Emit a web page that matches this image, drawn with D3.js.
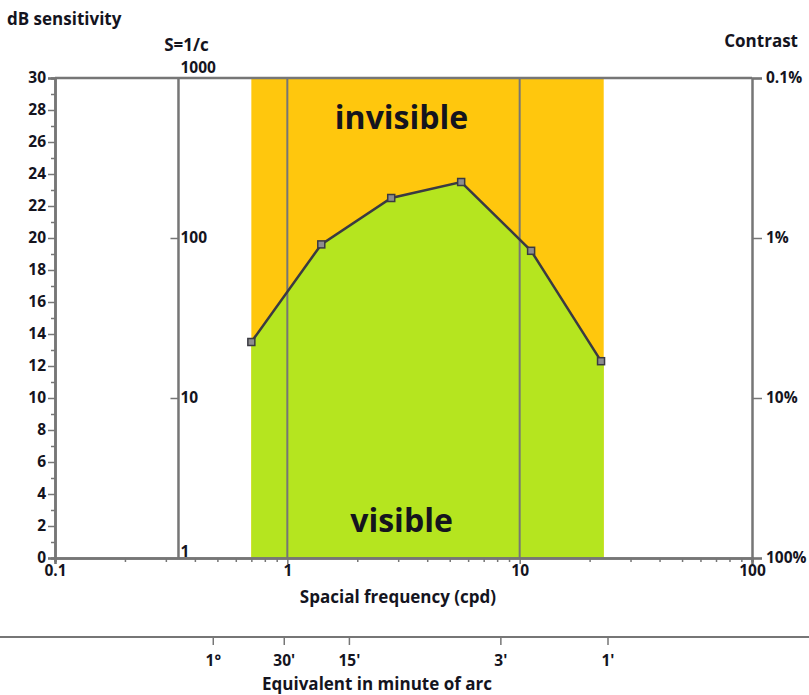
<!DOCTYPE html>
<html>
<head>
<meta charset="utf-8">
<script src="https://cdn.jsdelivr.net/npm/d3@7"></script>
<style>
  html, body { margin: 0; padding: 0; background: #fff; }
  svg { display: block; }
  text { font-family: "Open Sans", Lato, sans-serif; font-weight: bold; fill: #14141e; }
</style>
</head>
<body>
<svg id="chart" width="809" height="695"></svg>
<script>
// Contrast sensitivity measurements (cycles per degree -> dB)
const frequencies = [0.7, 1.4, 2.8, 5.6, 11.2, 22.4];
const sensitivityDb = [13.5, 19.6, 22.5, 23.5, 19.2, 12.3];

// Tested frequency band shaded behind the curve
const bandRange = [0.7, 23];

// Axis ticks
const dbTicks = [0, 2, 4, 6, 8, 10, 12, 14, 16, 18, 20, 22, 24, 26, 28, 30];
const freqTicks = [0.1, 1, 10, 100];
const sTicks = [10, 100];
const sEndLabels = [1, 1000];
const contrastTicks = [0.1, 1, 10, 100];
const arcLabels = ["1°", "30'", "15'", "3'", "1'"];
const arcCpd = [0.48, 0.97, 1.85, 8.3, 24];

const svg = d3.select("#chart");
const frameColor = "#767676";
const tickFont = "15.5px";
const titleFont = "17px";

const x = d3.scaleLog().domain([0.1, 100]).range([55, 752]);
const y = d3.scaleLinear().domain([0, 30]).range([558, 78]);
const sScale = d3.scaleLog().domain([1, 1000]).range([558, 78]);
const contrastScale = d3.scaleLog().domain([100, 0.1]).range([558, 78]);

const points = frequencies.map((f, i) => ({ f, v: sensitivityDb[i] }));

// Orange band (above threshold = invisible)
svg.append("rect")
  .attr("x", x(bandRange[0]))
  .attr("y", y(30))
  .attr("width", x(bandRange[1]) - x(bandRange[0]))
  .attr("height", y(0) - y(30))
  .attr("fill", "#FFC70D");

// Green area under the sensitivity curve (visible)
const areaPts = points.concat([{ f: bandRange[1], v: sensitivityDb[sensitivityDb.length - 1] }]);
svg.append("path")
  .datum(areaPts)
  .attr("fill", "#B5E51F")
  .attr("d", d3.area().x(d => x(d.f)).y0(y(0)).y1(d => y(d.v)));

// Band labels
const bandMid = x(Math.sqrt(bandRange[0] * bandRange[1])) - 26;
svg.append("text")
  .attr("x", bandMid)
  .attr("y", 129)
  .attr("text-anchor", "middle")
  .style("font-size", "32px")
  .text("invisible");
svg.append("text")
  .attr("x", bandMid)
  .attr("y", 532)
  .attr("text-anchor", "middle")
  .style("font-size", "32px")
  .text("visible");

// Decade grid lines
svg.selectAll("line.grid")
  .data([1, 10])
  .join("line")
  .attr("class", "grid")
  .attr("x1", d => x(d)).attr("x2", d => x(d))
  .attr("y1", y(30)).attr("y2", y(0))
  .attr("stroke", frameColor).attr("stroke-width", 2);

// Top frame line
svg.append("line")
  .attr("x1", x(0.1)).attr("x2", x(100))
  .attr("y1", y(30)).attr("y2", y(30))
  .attr("stroke", frameColor).attr("stroke-width", 2.5);

function styleAxis(g) {
  g.select(".domain").attr("stroke", frameColor).attr("stroke-width", 2.5);
  g.selectAll(".tick line").attr("stroke", frameColor).attr("stroke-width", 1.5);
  g.selectAll(".tick text")
    .style("font-family", "'Open Sans', Lato, sans-serif")
    .style("font-weight", "bold")
    .style("font-size", tickFont)
    .attr("fill", "#14141e");
}

// Left dB axis: minor ticks at odd values
svg.append("g")
  .attr("transform", `translate(${x(0.1)},0)`)
  .call(d3.axisLeft(y).tickValues(d3.range(1, 30, 2)).tickSize(4).tickFormat(""))
  .call(styleAxis);
svg.append("g")
  .attr("transform", `translate(${x(0.1)},0)`)
  .call(d3.axisLeft(y).tickValues(dbTicks).tickSize(7).tickPadding(2).tickFormat(d3.format("d")))
  .call(styleAxis);

// Bottom frequency axis: minor ticks at 2..9 of each decade
const minorFreq = [];
[0.1, 1, 10].forEach(dec => { for (let k = 2; k <= 9; k++) minorFreq.push(dec * k); });
svg.append("g")
  .attr("transform", `translate(0,${y(0)})`)
  .call(d3.axisBottom(x).tickValues(minorFreq).tickSize(4).tickFormat(""))
  .call(styleAxis);
svg.append("g")
  .attr("transform", `translate(0,${y(0)})`)
  .call(d3.axisBottom(x).tickValues(freqTicks).tickSize(6).tickPadding(1).tickFormat(d3.format("~g")))
  .call(styleAxis);

svg.append("text")
  .attr("x", 398)
  .attr("y", 603)
  .attr("text-anchor", "middle")
  .style("font-size", titleFont)
  .text("Spacial frequency (cpd)");

// S = 1/c axis (ticks on the left, labels on the right)
const sX = x(0.34);
const sAxis = svg.append("g")
  .attr("transform", `translate(${sX},0)`)
  .call(d3.axisRight(sScale).tickValues(sTicks).tickSize(-8).tickPadding(2).tickFormat(d3.format("d")))
  .call(styleAxis);
sAxis.select(".domain").attr("d", `M0,${sScale(1)}V${sScale(1000)}`);
svg.selectAll("text.send")
  .data(sEndLabels)
  .join("text")
  .attr("class", "send")
  .attr("x", sX + 2)
  .attr("y", d => d === 1000 ? sScale(d) - 5 : sScale(d) - 1)
  .style("font-size", tickFont)
  .text(d => d);
svg.append("text")
  .attr("x", sX + 8)
  .attr("y", 51)
  .attr("text-anchor", "middle")
  .style("font-size", titleFont)
  .text("S=1/c");

// Right contrast axis
svg.append("g")
  .attr("transform", `translate(${x(100)},0)`)
  .call(d3.axisRight(contrastScale).tickValues(contrastTicks).tickSize(10).tickPadding(4).tickFormat(d => d + "%"))
  .call(styleAxis);
svg.append("text")
  .attr("x", 798)
  .attr("y", 47)
  .attr("text-anchor", "end")
  .style("font-size", titleFont)
  .text("Contrast");

svg.append("text")
  .attr("x", 7)
  .attr("y", 25)
  .style("font-size", titleFont)
  .text("dB sensitivity");

// Sensitivity curve with square markers
svg.append("path")
  .datum(points)
  .attr("fill", "none")
  .attr("stroke", "#3a3a42")
  .attr("stroke-width", 2.5)
  .attr("d", d3.line().x(d => x(d.f)).y(d => y(d.v)));
svg.selectAll("rect.marker")
  .data(points)
  .join("rect")
  .attr("class", "marker")
  .attr("x", d => x(d.f) - 3.5)
  .attr("y", d => y(d.v) - 3.5)
  .attr("width", 7).attr("height", 7)
  .attr("fill", "#8e8e8e")
  .attr("stroke", "#3a3a42")
  .attr("stroke-width", 1.5);

// Equivalent angular size axis
const arcG = svg.append("g").attr("transform", "translate(0,637)");
arcG.append("line")
  .attr("x1", 0).attr("x2", 809)
  .attr("stroke", frameColor).attr("stroke-width", 2);
const arcTicks = arcG.selectAll("g.arc")
  .data(arcLabels.map((l, i) => ({ l, f: arcCpd[i] })))
  .join("g")
  .attr("class", "arc")
  .attr("transform", d => `translate(${x(d.f)},0)`);
arcTicks.append("line").attr("y2", 8).attr("stroke", frameColor).attr("stroke-width", 1.5);
arcTicks.append("text")
  .attr("y", 29)
  .attr("text-anchor", "middle")
  .style("font-size", tickFont)
  .text(d => d.l);
svg.append("text")
  .attr("x", 377)
  .attr("y", 690)
  .attr("text-anchor", "middle")
  .style("font-size", titleFont)
  .text("Equivalent in minute of arc");
</script>
</body>
</html>
